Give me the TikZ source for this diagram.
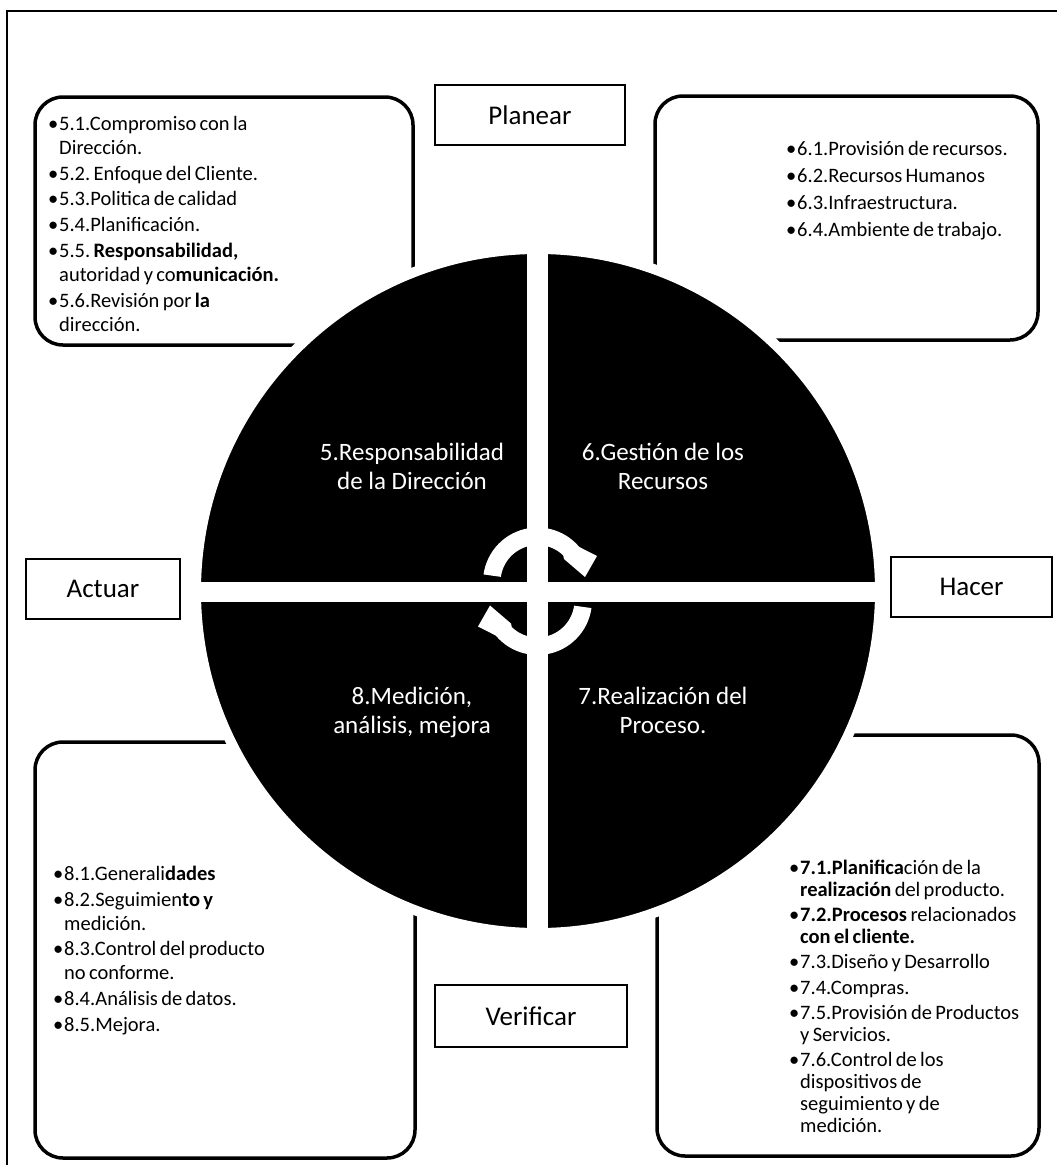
\documentclass[tikz,border=0pt]{standalone}
\usepackage{fontspec}
\setmainfont{Carlito}
\newcommand\bitem[1]{\noindent\hangindent=11pt\hangafter=1\makebox[11pt][l]{•}#1\par}
\frenchspacing
\begin{document}
\begin{tikzpicture}[x=1pt,y=-1pt,
  itembox/.style={draw=black, line width=3.5pt, rounded corners=28pt, inner sep=0pt},
  labelbox/.style={draw=black, line width=1.6pt, fill=white, font=\fontsize{27}{32}\selectfont, inner sep=0pt},
  quadtext/.style={text=white, font=\fontsize{25}{29}\selectfont, align=center, inner sep=0pt, anchor=north},
  listtext/.style={anchor=north west, inner sep=0pt, text width=300pt},
  wheelstyle/.style={circle, fill=black, draw=white, line width=10pt, inner sep=0pt},
  cyclearrow/.style={fill=white, draw=none}
]
\useasboundingbox (0,0) rectangle (1057,1165);
\fill[white] (0,0) rectangle (1057,1165);
% outer frame
\coordinate (fbl) at (7,1165);
\coordinate (ftl) at (7,11);
\coordinate (ftr) at (1057,11);
\draw[line width=1.6pt] (fbl) -- (ftl) -- (ftr);

% item boxes
\node[itembox, minimum width=378, minimum height=248] (b5) at (224,221) {};
\node[itembox, minimum width=383, minimum height=244] (b6) at (846.5,218) {};
\node[itembox, minimum width=380, minimum height=416] (b8) at (225,950) {};
\node[itembox, minimum width=382, minimum height=421] (b7) at (848,945.5) {};

% wheel
\node[wheelstyle, minimum size=684] (wheel) at (538,591) {};
\fill[white] (527,245) rectangle (548,940);
\fill[white] (190,582) rectangle (886,602);

% cycle arrows
\fill[cyclearrow] plot[domain=172:40,samples=30] ({537.5+54.5*cos(\x)},{582-54.5*sin(\x)})
  -- (597,556) -- (585,577) -- (564,559)
  -- plot[domain=46:172,samples=30] ({537.5+37*cos(\x)},{582-37*sin(\x)}) -- cycle;
\begin{scope}[rotate around={180:(537.5,591.25)}]
\fill[cyclearrow] plot[domain=172:40,samples=30] ({537.5+54.5*cos(\x)},{582-54.5*sin(\x)})
  -- (597,556) -- (585,577) -- (564,559)
  -- plot[domain=46:172,samples=30] ({537.5+37*cos(\x)},{582-37*sin(\x)}) -- cycle;
\end{scope}

% quadrant texts
\node[quadtext] (q5) at (412,440) {\rule{0pt}{20pt}5.Responsabilidad\\de la Dirección};
\node[quadtext] (q6) at (663,440) {\rule{0pt}{20pt}6.Gestión de los\\Recursos};
\node[quadtext] (q8) at (412,684) {\rule{0pt}{20pt}8.Medición,\\análisis, mejora};
\node[quadtext] (q7) at (663,684) {\rule{0pt}{20pt}7.Realización del\\Proceso.};

% PDCA labels
\node[labelbox, minimum width=190, minimum height=60] (planear) at (530,115) {Planear};
\node[labelbox, minimum width=154, minimum height=60] (actuar) at (103,589) {Actuar};
\node[labelbox, minimum width=161, minimum height=60] (hacer) at (971.5,587) {Hacer};
\node[labelbox, minimum width=192, minimum height=62] (verificar) at (531,1016) {Verificar};

% lists
\node[listtext] (t5) at (48,113) {\fontsize{20.5}{24}\selectfont\setlength{\parskip}{1.8pt}\rule{0pt}{17pt}%
\bitem{5.1.Compromiso con la\newline Dirección.}
\bitem{5.2. Enfoque del Cliente.}
\bitem{5.3.Politica de calidad}
\bitem{5.4.Planificación.}
\bitem{5.5. \textbf{Responsabilidad,}\newline autoridad y co\textbf{municación.}}
\bitem{5.6.Revisión por \textbf{la}\newline dirección.}};

\node[listtext] (t6) at (786,138) {\fontsize{20.5}{24}\selectfont\setlength{\parskip}{3pt}\rule{0pt}{17pt}%
\bitem{6.1.Provisión de recursos.}
\bitem{6.2.Recursos Humanos}
\bitem{6.3.Infraestructura.}
\bitem{6.4.Ambiente de trabajo.}};

\node[listtext] (t8) at (53,863) {\fontsize{20.5}{24}\selectfont\setlength{\parskip}{1.8pt}\rule{0pt}{17pt}%
\bitem{8.1.Generali\textbf{dades}}
\bitem{8.2.Seguimien\textbf{to y}\newline medición.}
\bitem{8.3.Control del producto\newline no conforme.}
\bitem{8.4.Análisis de datos.}
\bitem{8.5.Mejora.}};

\node[listtext] (t7) at (789,857) {\fontsize{20.5}{22}\selectfont\setlength{\parskip}{3.3pt}\rule{0pt}{17pt}%
\bitem{\textbf{7.1.Planifica}ción de la\newline \textbf{realización} del producto.}
\bitem{\textbf{7.2.Procesos} relacionados\newline \textbf{con el cliente.}}
\bitem{7.3.Diseño y Desarrollo}
\bitem{7.4.Compras.}
\bitem{7.5.Provisión de Productos\newline y Servicios.}
\bitem{7.6.Control de los\newline dispositivos de\newline seguimiento y de\newline medición.}};
\end{tikzpicture}
\end{document}
